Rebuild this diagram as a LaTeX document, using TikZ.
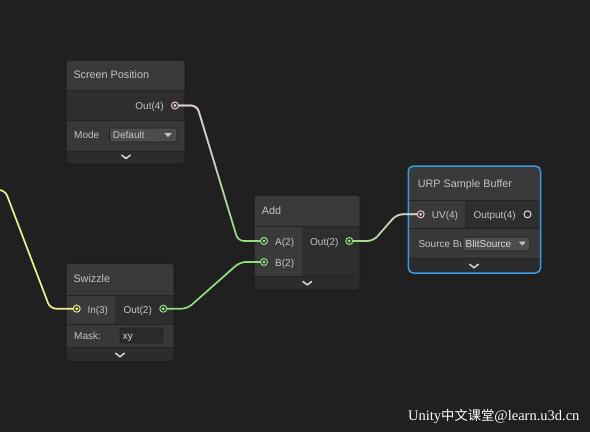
\documentclass[tikz,border=0pt]{standalone}
\usepackage{fontspec}
\setmainfont{Liberation Sans}
\newfontfamily\wmserif{Liberation Serif}
\newfontfamily\wmcjk{Noto Sans CJK SC}
\usetikzlibrary{calc,fadings}

\definecolor{canvas}{HTML}{202020}
\definecolor{titlebg}{HTML}{393939}
\definecolor{inbg}{HTML}{3A3A3A}
\definecolor{outbg}{HTML}{2E2E2E}
\definecolor{ctrlbg}{HTML}{383838}
\definecolor{footbg}{HTML}{2C2C2C}
\definecolor{sepc}{HTML}{242424}
\definecolor{framec}{HTML}{1B1B1B}
\definecolor{labelc}{HTML}{C4C4C4}
\definecolor{dropbg}{HTML}{4C4C4C}
\definecolor{fieldbg}{HTML}{2A2A2A}
\definecolor{selc}{HTML}{3C9CE0}
\definecolor{vecfour}{HTML}{EBC2E4}
\definecolor{vecthree}{HTML}{EBF18E}
\definecolor{vectwo}{HTML}{90E07F}

\tikzset{
  lbl/.style={anchor=west, inner sep=0pt, text=labelc, text height=0.72em, text depth=0pt,
    font=\fontsize{10}{12}\selectfont},
  lblr/.style={lbl, anchor=east},
  ttl/.style={lbl, font=\fontsize{10.8}{13}\selectfont},
  port/.style={circle, inner sep=0pt, minimum size=7pt, draw=#1, line width=1pt, fill=outbg,
    path picture={\fill[#1] (path picture bounding box.center) circle (1.6pt);}},
  openport/.style={circle, inner sep=0pt, minimum size=7pt, draw=#1, line width=1pt, fill=outbg},
  wire/.style={line width=1.7pt, rounded corners=6pt},
  sepline/.style={draw=sepc, line width=1pt},
  framebox/.style={draw=framec, line width=1pt, rounded corners=3pt},
  chev/.style={draw=white!85!black, line width=1.5pt, line cap=round, line join=round},
  dropbox/.style={fill=dropbg, draw=framec, line width=0.6pt, rounded corners=2pt},
  fieldbox/.style={fill=fieldbg, draw=sepc, line width=0.8pt, rounded corners=2pt},
  droptri/.style={fill=labelc},
}

\begin{document}
\begin{tikzpicture}[x=1pt,y=-1pt]
\fill[canvas] (0,0) rectangle (590,432);
\useasboundingbox (0,0) rectangle (590,432);

% ---------- Screen Position ----------
\begin{scope}
  \clip[rounded corners=3pt] (66,60) rectangle (185,164);
  \fill[titlebg] (66,60) rectangle (185,90);
  \fill[outbg] (66,90) rectangle (185,120.5);
  \fill[ctrlbg] (66,120.5) rectangle (185,151);
  \fill[footbg] (66,151) rectangle (185,164);
  \draw[sepline] (66,90) -- (185,90);
  \draw[sepline] (66,120.5) -- (185,120.5);
  \draw[sepline] (66,151) -- (185,151);
\end{scope}
\draw[framebox] (66,60) rectangle (185,164);
\node[ttl] (sp-title) at (73.3,75) {Screen Position};
\node[lblr] (sp-outlbl) at (164,106) {Out(4)};
\node[lbl] (sp-mode) at (74,135) {Mode};
\draw[dropbox] (109.5,128) rectangle (177,142);
\node[lbl] (sp-default) at (112.7,135) {Default};
\fill[droptri] (164.5,133.2) -- (171.5,133.2) -- (168,137.2) -- cycle;
\draw[chev] (121.8,155.2) -- (126,158.6) -- (130.2,155.2);
\coordinate (sp-out) at (175,105.5);

% ---------- Add ----------
\begin{scope}
  \clip[rounded corners=3pt] (254,195) rectangle (360,290);
  \fill[titlebg] (254,195) rectangle (360,226);
  \fill[inbg] (254,226) rectangle (302,276);
  \fill[outbg] (302,226) rectangle (360,276);
  \fill[footbg] (254,276) rectangle (360,290);
  \draw[sepline] (254,226) -- (360,226);
  \draw[sepline] (254,276) -- (360,276);
\end{scope}
\draw[framebox] (254,195) rectangle (360,290);
\node[ttl] (add-title) at (261.7,211) {Add};
\node[lbl] (add-albl) at (275,242.3) {A(2)};
\node[lbl] (add-blbl) at (275,263.3) {B(2)};
\node[lbl] (add-outlbl) at (310,242.3) {Out(2)};
\draw[chev] (303,281.5) -- (307.3,284.9) -- (311.6,281.5);
\coordinate (add-a) at (264,241);
\coordinate (add-b) at (264,262);
\coordinate (add-out) at (349.3,241);

% ---------- URP Sample Buffer ----------
\begin{scope}
  \clip[rounded corners=4pt] (408.5,166) rectangle (540.5,273);
  \fill[titlebg] (408.5,166) rectangle (540.5,200.3);
  \fill[inbg] (408.5,200.3) rectangle (465,228);
  \fill[outbg] (465,200.3) rectangle (540.5,228);
  \fill[ctrlbg] (408.5,228) rectangle (540.5,258.7);
  \fill[footbg] (408.5,258.7) rectangle (540.5,273);
  \draw[sepline] (408.5,200.3) -- (540.5,200.3);
  \draw[sepline] (408.5,228) -- (540.5,228);
  \draw[sepline] (408.5,258.7) -- (540.5,258.7);
\end{scope}
\draw[draw=selc, line width=1.5pt, rounded corners=5pt] (408.3,166) rectangle (540.5,273);
\node[ttl] (urp-title) at (417.7,184.3) {URP Sample Buffer};
\node[lbl] (urp-uvlbl) at (431.7,215.3) {UV(4)};
\node[lbl] (urp-outlbl) at (473.3,215.3) {Output(4)};
\node[lbl] (urp-src) at (418.3,243.7) {Source Bu};
\draw[dropbox] (462.7,237) rectangle (530,251);
\node[lbl, text=white!86!black] (urp-blit) at (465.5,244) {BlitSource};
\fill[droptri] (518.8,241.6) -- (525.8,241.6) -- (522.3,245.6) -- cycle;
\draw[chev] (469.7,264.3) -- (474,267.7) -- (478.3,264.3);
\coordinate (urp-uv) at (420.7,214.3);
\coordinate (urp-output) at (527.5,214.3);

% ---------- Swizzle ----------
\begin{scope}
  \clip[rounded corners=3pt] (66,263.3) rectangle (174,361.7);
  \fill[titlebg] (66,263.3) rectangle (174,295);
  \fill[inbg] (66,295) rectangle (115,324);
  \fill[outbg] (115,295) rectangle (174,324);
  \fill[ctrlbg] (66,324) rectangle (174,347);
  \fill[footbg] (66,347) rectangle (174,361.7);
  \draw[sepline] (66,295) -- (174,295);
  \draw[sepline] (66,324) -- (174,324);
  \draw[sepline] (66,347) -- (174,347);
\end{scope}
\draw[framebox] (66,263.3) rectangle (174,361.7);
\node[ttl] (swz-title) at (73.3,278.5) {Swizzle};
\node[lbl] (swz-inlbl) at (87.3,310) {In(3)};
\node[lbl] (swz-outlbl) at (123.3,310) {Out(2)};
\node[lbl] (swz-mask) at (74,335.5) {Mask:};
\draw[fieldbox] (120,328) rectangle (163,343);
\node[lbl, text=white!86!black] (swz-xy) at (122.7,335.5) {xy};
\draw[chev] (115.7,353.3) -- (120,356.7) -- (124.3,353.3);
\coordinate (swz-in) at (76.7,308.7);
\coordinate (swz-out) at (163.3,308.7);

% ---------- connectors ----------
\coordinate (feed) at (-2,190);
\draw[wire, vecthree] (feed) -- ++(7,0) -- ($(swz-in)+(-26.5,0)$) -- (swz-in);

\draw[wire, vectwo] (sp-out) -- ++(22,0) -- ($(add-a)+(-26,0)$) -- (add-a);
\draw[wire, vecfour, path fading=south] (sp-out) -- ++(22,0) -- ($(add-a)+(-26,0)$) -- (add-a);

\draw[wire, vectwo] (swz-out) -- ++(24,0) -- ($(add-b)+(-24,0)$) -- (add-b);

\draw[wire, vectwo] (add-out) -- ++(24,0) -- ($(urp-uv)+(-24,0)$) -- (urp-uv);
\draw[wire, vecfour, path fading=west] (add-out) -- ++(24,0) -- ($(urp-uv)+(-24,0)$) -- (urp-uv);

% ---------- ports ----------
\node[port=vecfour] (sp-out-dot) at (sp-out) {};
\node[port=vectwo] (add-a-dot) at (add-a) {};
\node[port=vectwo] (add-b-dot) at (add-b) {};
\node[port=vectwo] (add-out-dot) at (add-out) {};
\node[port=vecfour] (urp-uv-dot) at (urp-uv) {};
\node[openport=vecfour!70!white] (urp-output-dot) at (urp-output) {};
\node[port=vecthree] (swz-in-dot) at (swz-in) {};
\node[port=vectwo] (swz-out-dot) at (swz-out) {};

% ---------- watermark ----------
\node[anchor=west, inner sep=0pt, text=white, font=\fontsize{14.5}{16}\selectfont]
  (wm) at (408,416) {\wmserif Unity{\wmcjk\fontsize{13.3}{16}\selectfont 中文课堂}@learn.u3d.cn};
\end{tikzpicture}
\end{document}
